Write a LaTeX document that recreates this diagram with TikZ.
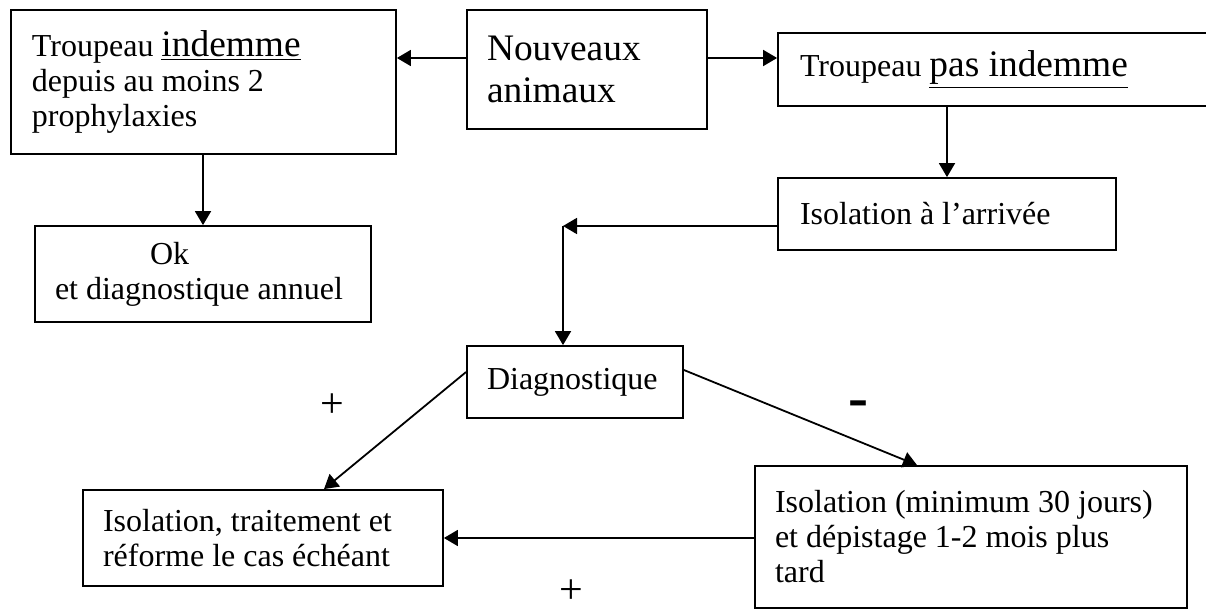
\documentclass[tikz,border=0pt]{standalone}
\usepackage{fontspec}
\setmainfont{Liberation Serif}
\usetikzlibrary{arrows.meta}

\newcommand\grand[1]{{\fontsize{18.7}{17.5}\selectfont #1}}

\begin{document}
\begin{tikzpicture}[x=0.5pt, y=-0.5pt,
    box/.style={draw, line width=0.9pt, inner ysep=0pt, inner xsep=10pt, align=flush left,
      font=\fontsize{16}{17.5}\selectfont},
    arr/.style={line width=0.9pt, -{Triangle[length=7pt,width=8pt]}},
    signe/.style={inner sep=0pt, font=\fontsize{21}{21}\selectfont}]
  \clip (0,0) rectangle (1206,610);
  % boxes
  \node[box, inner xsep=10.5pt, text width=171.5pt, minimum height=72pt] (indemme) at (203.5,82)
    {Troupeau \grand{\underline{indemme}}\\ depuis au moins 2\\ prophylaxies};
  \node[box, text width=100pt, minimum height=59.5pt, font=\fontsize{18.7}{21}\selectfont] (nouveaux) at (587,69.5)
    {Nouveaux\\ animaux};
  \node[box, inner xsep=11pt, text width=199pt, minimum height=36.5pt] (pasindemme) at (999,69.5)
    {Troupeau \grand{\underline{pas indemme}}};
  \node[box, inner xsep=11pt, text width=147pt, minimum height=36pt] (arrivee) at (947,214)
    {Isolation à l’arrivée};
  \node[box, text width=148pt, minimum height=48pt] (ok) at (203,274)
    {\hspace*{47.5pt}Ok\\ et diagnostique annuel};
  \node[box, text width=88pt, minimum height=36pt] (diag) at (575,382)
    {Diagnostique};
  \node[box, text width=160pt, minimum height=48pt] (reforme) at (263,538)
    {Isolation, traitement et\\ réforme le cas échéant};
  \node[box, text width=196pt, minimum height=71pt] (depistage) at (971,537)
    {Isolation (minimum 30 jours)\\ et dépistage 1-2 mois plus\\ tard};

  % arrows
  \coordinate (haut) at (0,58);
  \draw[arr] (nouveaux.west |- haut) -- (indemme.east |- haut);
  \draw[arr] (nouveaux.east |- haut) -- (pasindemme.west |- haut);
  \draw[arr] (pasindemme.south -| arrivee.north) -- (arrivee.north);
  \draw[arr] (indemme.south -| ok.north) -- (ok.north);
  \coordinate (coin) at (563,226);
  \draw[arr] (arrivee.west |- coin) -- (coin);
  \draw[arr] (coin) -- (diag.north -| coin);
  \draw[arr] ([yshift=5pt]diag.west) -- ([xshift=30.5pt]reforme.north);
  \draw[arr] ([yshift=6pt]diag.east) -- ([xshift=-27pt]depistage.north);
  \draw[arr] (depistage.west |- reforme.east) -- (reforme.east);

  % signs
  \node[signe] (plusa) at (332,406) {+};
  \node[signe] (plusb) at (571,592) {+};
  \node[signe, font=\fontsize{30}{30}\selectfont\bfseries] (moins) at (858,409) {-};
\end{tikzpicture}
\end{document}
